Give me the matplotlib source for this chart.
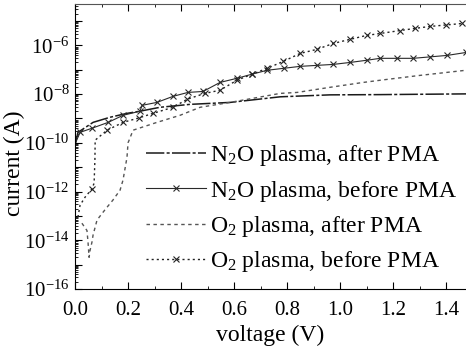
import numpy as np
import matplotlib
matplotlib.use("Agg")
from matplotlib import pyplot as plt
from matplotlib.ticker import FixedLocator, FuncFormatter, LogLocator, NullFormatter

# values (voltage in V, log10 of current in A)
n2o_after_v = [0.002, 0.011, 0.068, 0.132, 0.196, 0.245, 0.321, 0.434, 0.585, 0.774, 0.962, 1.151, 1.475]
n2o_after_log = [-10.0, -9.57, -9.16, -8.95, -8.79, -8.70, -8.54, -8.42, -8.34, -8.11, -8.03, -8.02, -7.99]

n2o_before_v = [0.002, 0.019, 0.064, 0.125, 0.181, 0.245, 0.253, 0.309, 0.370, 0.426, 0.483, 0.547,
                0.611, 0.668, 0.725, 0.787, 0.849, 0.911, 0.974, 1.037, 1.100, 1.151, 1.213, 1.275,
                1.340, 1.404, 1.475]
n2o_before_log = [-10.0, -9.57, -9.40, -9.16, -8.87, -8.70, -8.46, -8.34, -8.09, -7.93, -7.89, -7.52,
                  -7.35, -7.18, -7.02, -6.94, -6.86, -6.82, -6.78, -6.70, -6.61, -6.53, -6.53, -6.53,
                  -6.47, -6.41, -6.29]

o2_after_v = [0.026, 0.045, 0.049, 0.053, 0.057, 0.064, 0.068, 0.083, 0.102, 0.121, 0.143, 0.170,
              0.181, 0.196, 0.200, 0.219, 0.309, 0.396, 0.472, 0.585, 0.774, 0.838, 0.962, 1.087,
              1.151, 1.302, 1.475]
o2_after_log = [-13.3, -13.6, -14.07, -14.7, -14.4, -14.07, -13.79, -13.17, -12.9, -12.64, -12.35, -11.94,
                -11.53, -10.6, -10.0, -9.48, -9.16, -8.87, -8.54, -8.34, -7.97, -7.93, -7.72, -7.52,
                -7.43, -7.23, -7.02]

o2_before_v = [0.011, 0.019, 0.038, 0.063, 0.072, 0.075, 0.076, 0.121, 0.181, 0.240, 0.294, 0.370,
               0.423, 0.490, 0.547, 0.611, 0.668, 0.725, 0.785, 0.849, 0.913, 0.974, 1.038, 1.100,
               1.151, 1.226, 1.283, 1.340, 1.400, 1.460]
o2_before_log = [-13.05, -12.56, -12.23, -11.9, -11.66, -10.7, -9.89, -9.48, -9.16, -8.98, -8.79, -8.54,
                 -8.21, -7.97, -7.84, -7.43, -7.18, -6.94, -6.66, -6.33, -6.16, -5.92, -5.75, -5.59,
                 -5.51, -5.39, -5.30, -5.22, -5.16, -5.10]

labels = ["N$_2$O plasma, after PMA", "N$_2$O plasma, before PMA",
          "O$_2$ plasma, after PMA", "O$_2$ plasma, before PMA"]

plt.rcParams['font.family'] = ['Liberation Serif', 'DejaVu Serif']
plt.rcParams['mathtext.fontset'] = 'custom'
plt.rcParams['mathtext.rm'] = 'Liberation Serif'
plt.rcParams['mathtext.it'] = 'Liberation Serif:italic'
plt.rcParams['font.size'] = 15

fig = plt.figure(figsize=(4.66, 3.49), dpi=100)
ax = fig.add_axes([0.161, 0.172, 0.839, 0.8165])

ax.plot(n2o_after_v, 10.0 ** np.array(n2o_after_log), '-', color='#1a1a1a', lw=1.1,
        dashes=(12, 1.5, 2, 1.5), label=labels[0])
ax.plot(n2o_before_v, 10.0 ** np.array(n2o_before_log), '-', color='#2a2a2a', lw=0.8,
        marker='x', ms=5, mew=0.8, markevery=list(range(1, len(n2o_before_v))), label=labels[1])
ax.plot(o2_after_v, 10.0 ** np.array(o2_after_log), '--', color='#555555', lw=1.0,
        dashes=(2.5, 2.5), label=labels[2])
ax.plot(o2_before_v, 10.0 ** np.array(o2_before_log), '--', color='#222222', lw=1.0,
        dashes=(1.5, 2.2), marker='x', ms=5, mew=0.8,
        markevery=[3] + list(range(7, len(o2_before_v))), label=labels[3])

ax.set_yscale('log')
ax.set_xlim(0, 1.475)
ax.set_ylim(1e-16, 10 ** -4.3)

ax.set_xticks([0.0, 0.2, 0.4, 0.6, 0.8, 1.0, 1.2, 1.4])
ax.set_xticks(np.arange(0.1, 1.5, 0.2), minor=True)
ax.xaxis.set_major_formatter(FuncFormatter(lambda v, p: "%.1f" % v))

ax.yaxis.set_major_locator(FixedLocator([10.0 ** k for k in range(-16, -4)]))
ax.yaxis.set_major_formatter(FuncFormatter(
    lambda v, p: r"$\mathregular{10^{%d}}$" % round(np.log10(v)) if round(np.log10(v)) % 2 == 0 else ""))
ax.yaxis.set_minor_locator(LogLocator(base=10, subs=np.arange(2, 10), numticks=40))
ax.yaxis.set_minor_formatter(NullFormatter())

ax.tick_params(which='both', direction='in', top=True, right=False)
ax.tick_params(which='major', length=5, width=0.8, labelsize=15)
ax.tick_params(axis='x', which='major', pad=9)
ax.tick_params(axis='y', which='major', pad=4)
ax.tick_params(which='minor', length=2.5, width=0.6)
ax.spines['right'].set_visible(False)
ax.spines['top'].set_color('#555555')

ax.set_xlabel("voltage (V)", fontsize=17, labelpad=3)
ax.set_ylabel("current (A)", fontsize=17)
ax.yaxis.set_label_coords(-0.127, 0.44)

leg = ax.legend(loc='lower right', frameon=False, fontsize=17, handlelength=2.55,
                handletextpad=0.15, labelspacing=0.44, borderaxespad=0.0,
                bbox_to_anchor=(1.0, 0.018))

plt.savefig("out.png", dpi=100)
